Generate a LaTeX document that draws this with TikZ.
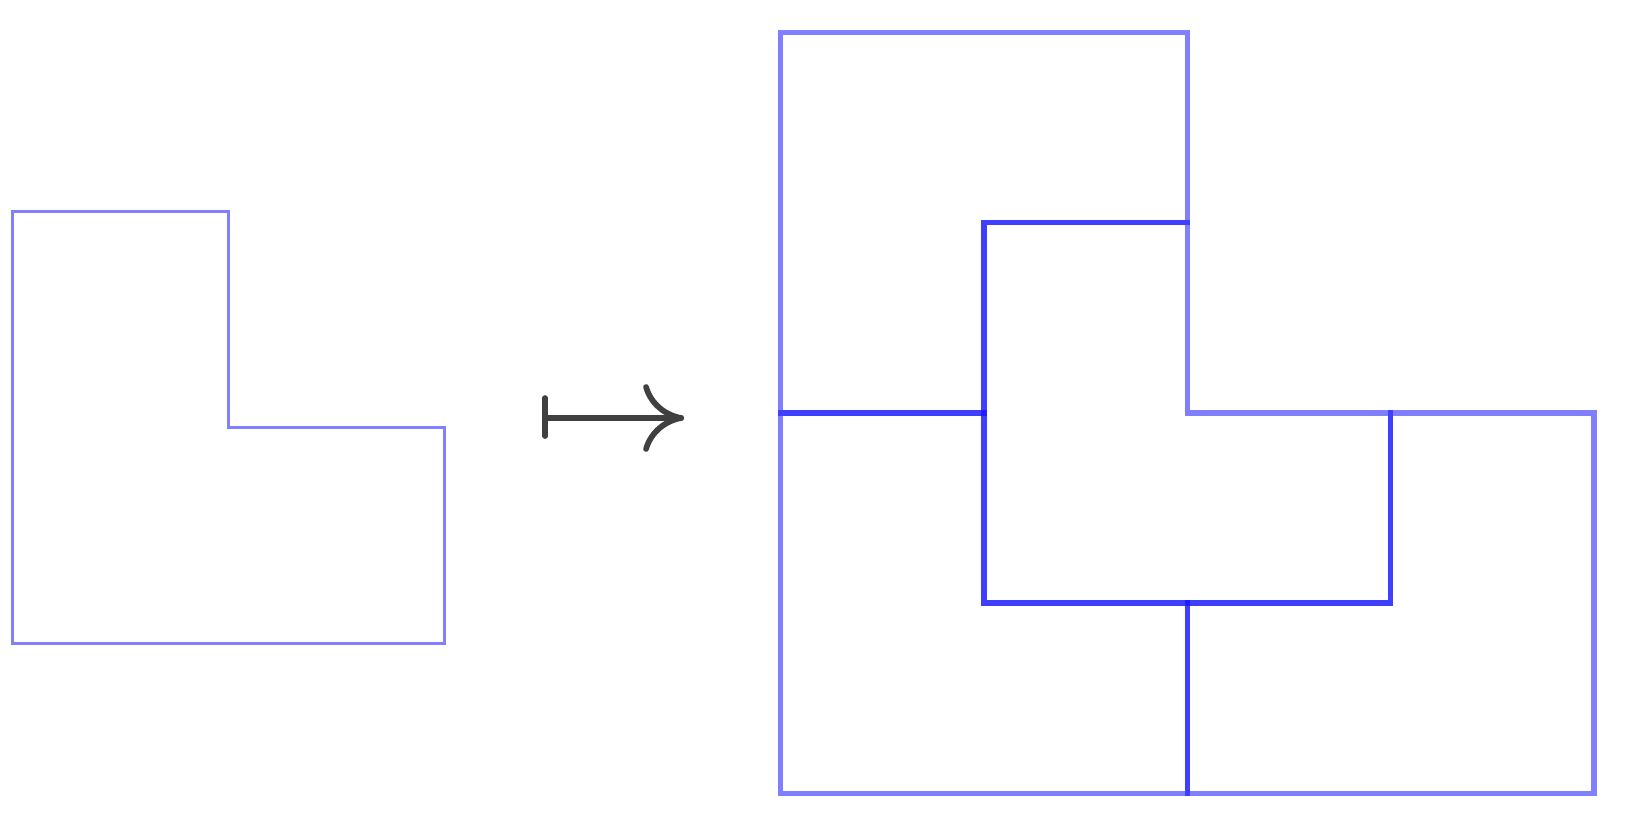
\documentclass[tikz,border=0pt]{standalone}
\usepackage{xcolor}
\definecolor{arrowgray}{HTML}{404040}
\begin{document}
\begin{tikzpicture}[x=0.5pt,y=-0.5pt]
\tikzset{
  smallL/.style={draw=blue, draw opacity=0.5, line width=1.35pt, line join=miter},
  tile/.style={draw=blue, draw opacity=0.5, line width=2.75pt, line join=miter},
  maparrow/.style={draw=arrowgray, line width=2.85pt, line cap=round}
}
\useasboundingbox (0,0) rectangle (1631,829);
% left L-shape
\draw[smallL] (12.5,211.7) -- (228.5,211.7) -- (228.5,427.5) -- (444.7,427.5)
  -- (444.7,643.3) -- (12.5,643.3) -- cycle;
% maps-to arrow
\coordinate (barTop) at (545,398);
\coordinate (barBot) at (545,436);
\coordinate (tail) at (545,418);
\coordinate (tip) at (681,418);
\coordinate (barbUp) at (646,387);
\coordinate (barbDn) at (646,449);
\draw[maparrow] (barTop) -- (barBot);
\draw[maparrow] (tail) -- (tip);
\draw[maparrow] (barbUp) .. controls (651,404) and (665,415) .. (tip);
\draw[maparrow] (barbDn) .. controls (651,432) and (665,421) .. (tip);
% four L tiles forming the large L
\begin{scope}[shift={(780.7,793.3)}]
\begin{scope}[x=101.65pt,y=95.125pt]
  % top-left tile
  \draw[tile] (0,2) -- (1,2) -- (1,3) -- (2,3) -- (2,4) -- (0,4) -- cycle;
  % bottom-left tile
  \draw[tile] (0,0) -- (2,0) -- (2,1) -- (1,1) -- (1,2) -- (0,2) -- cycle;
  % center tile
  \draw[tile] (1,1) -- (3,1) -- (3,2) -- (2,2) -- (2,3) -- (1,3) -- cycle;
  % bottom-right tile
  \draw[tile] (2,0) -- (4,0) -- (4,2) -- (3,2) -- (3,1) -- (2,1) -- cycle;
\end{scope}
\end{scope}
\end{tikzpicture}
\end{document}
